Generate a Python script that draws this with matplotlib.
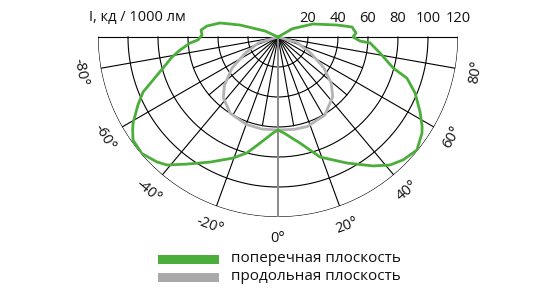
import numpy as np
import matplotlib.pyplot as plt
from matplotlib.patches import Rectangle

plt.rcParams['font.family'] = ['Open Sans', 'DejaVu Sans']

# поперечная плоскость (green), angle from nadir in degrees, I in cd/1000 lm
cross_angles = [-118, -114.8, -107.5, -103.6, -98.8, -95.2, -91.5, -87.9, -86.1,
                -82.4, -79.3, -74.9, -71, -67.8, -64.1, -59.3, -57.4, -54.6, -49.5,
                -44.1, -40.9, -35.6, -28.5, -20.4, -15, -9.6, -3, 0,
                4, 11.7, 19.3, 28.7, 36.4, 41.2, 45.5, 50.9, 56.3, 58.3, 62.3,
                67.8, 72.3, 74.9, 81.1, 86.3, 87.2, 90, 92.9, 97.7, 101.5, 110.4,
                120, 124]
cross_values = [0, 9.5, 26.5, 39.8, 47.9, 51.5, 50.7, 53.4, 58.8,
                65.9, 71.9, 79.4, 88.1, 97.2, 103.8, 112.4, 115, 118.6, 119.5,
                116, 112.9, 104.2, 94.9, 86.1, 80, 71.7, 64.1, 62,
                64.5, 72.2, 84.8, 95.8, 106.8, 113.4, 116.9, 119.4, 115.4, 112.9, 106.9,
                98.7, 90.2, 79.6, 68.8, 61.5, 54.7, 50, 52.1, 49.8, 40.1, 24.9,
                11, 0]

# продольная плоскость (grey)
long_angles = [-86, -74, -64, -56, -48, -42, -32, -20, -10, 0,
               10, 18, 31, 42.5, 49, 56, 64, 74, 86]
long_values = [0, 13, 24, 37, 48, 54.5, 60, 62, 62.3, 62,
               62.5, 62.8, 60.7, 54, 47, 37, 24, 13, 0]

r_ticks = [20, 40, 60, 80, 100, 120]
angle_ticks = [-80, -60, -40, -20, 0, 20, 40, 60, 80]

green = '#4cae3a'
grey = '#b3b3b3'

fig = plt.figure(figsize=(5.4, 3.0), dpi=100)
# centre of the diagram at (278, 37) px, 120 -> 180 px
ax = fig.add_axes([98 / 540, (300 - 217) / 300, 360 / 540, 360 / 300],
                  projection='polar')
ax.set_theta_zero_location('S')
ax.set_theta_direction(1)
ax.set_ylim(0, 120)
ax.axis('off')

# grid
th = np.radians(np.linspace(-90, 90, 181))
for r in r_ticks:
    ax.plot(th, np.full_like(th, r), color='k', lw=0.8, zorder=1)
for a in range(-90, 91, 10):
    if a == 0:
        continue
    rmax = 120 if a % 20 == 0 or abs(a) == 90 else 60
    ax.plot([np.radians(a)] * 2, [0, rmax], color='k', lw=0.8, zorder=1)
ax.plot([0, 0], [0, 120], color='#8a8a8a', lw=1.4, zorder=1)

# curves
ax.plot(np.radians(long_angles), long_values, color=grey, lw=2, zorder=3)
ax.plot(np.radians(cross_angles), cross_values, color=green, lw=2, zorder=4)

# labels
for r in r_ticks:
    ax.annotate(str(r), xy=(np.radians(90), r), xytext=(0, 19),
                textcoords='offset pixels', ha='center', va='center',
                fontsize=10.5, color='#111111', annotation_clip=False)
for a in angle_ticks:
    ax.text(np.radians(a), 134, f'{a}°', rotation=a, rotation_mode='anchor',
            ha='center', va='center', fontsize=10.5, color='#111111')

fig.text(137 / 540, 1 - 18 / 300, 'I, кд / 1000 лм', ha='center', va='center',
         fontsize=10.5, color='#111111')

# legend
fig.add_artist(Rectangle((158 / 540, 1 - 264 / 300), 61 / 540, 9 / 300,
                         transform=fig.transFigure, color=green, lw=0))
fig.add_artist(Rectangle((158 / 540, 1 - 282 / 300), 61 / 540, 9 / 300,
                         transform=fig.transFigure, color='#a9a9a9', lw=0))
fig.text(231 / 540, 1 - 259 / 300, 'поперечная плоскость', ha='left', va='center',
         fontsize=11, color='#111111')
fig.text(231 / 540, 1 - 277 / 300, 'продольная плоскость', ha='left', va='center',
         fontsize=11, color='#111111')

fig.savefig('out.png', dpi=100)
